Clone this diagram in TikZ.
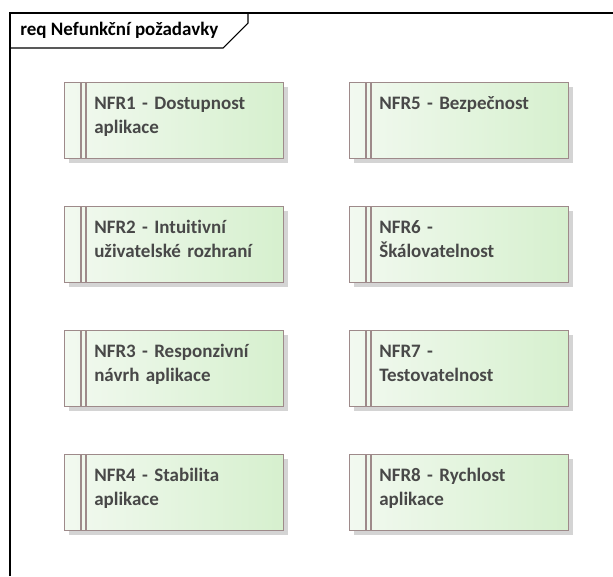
\documentclass[tikz,border=0pt]{standalone}
\usepackage{fontspec}
\setmainfont[Ligatures=NoCommon]{Carlito}
\usetikzlibrary{shadows}
\definecolor{boxedge}{RGB}{158,138,138}
\definecolor{fillL}{RGB}{242,249,240}
\definecolor{fillR}{RGB}{214,240,206}
\definecolor{reqtextcol}{RGB}{72,72,72}
\definecolor{shadowgray}{RGB}{212,212,212}
\begin{document}
\begin{tikzpicture}[x=0.75pt,y=-0.75pt,
  reqbox/.style={draw=boxedge, line width=0.9pt, left color=fillL, right color=fillR,
    minimum width=164.25pt, minimum height=57pt, inner sep=0pt, anchor=north west,
    general shadow={fill=shadowgray, shadow xshift=3pt, shadow yshift=-3pt}},
  stripline/.style={draw=boxedge, line width=0.9pt},
  reqtext/.style={anchor=base west, inner sep=0pt, text width=145pt, align=left,
    text=reqtextcol, font=\fontsize{14.25}{18}\selectfont\bfseries},
  titletext/.style={anchor=base west, inner sep=0pt, text=black,
    font=\fontsize{14.25}{18}\selectfont\bfseries},
  framestroke/.style={draw=black, line width=1.1pt},
  tabstroke/.style={draw=black, line width=0.8pt}]
\useasboundingbox (0,0) rectangle (613,576);
\fill[white] (0,0) rectangle (613,576);

% diagram frame and its name tab
\coordinate (frameBL) at (10,576);
\coordinate (frameTL) at (10,13);
\coordinate (frameTR) at (613,13);
\draw[framestroke] (frameBL) -- (frameTL) -- (frameTR);
\node[titletext] (title) at (20,35) {req Nefunkční požadavky};
\coordinate (tabA) at (10,48);
\coordinate (tabB) at (223,48);
\coordinate (tabC) at (248,23);
\coordinate (tabD) at (248,13);
\draw[tabstroke] (tabA) -- (tabB) -- (tabC) -- (tabD);

% requirement elements
\node[reqbox] (r1) at (64,82)  {};
\node[reqbox] (r2) at (64,206) {};
\node[reqbox] (r3) at (64,330) {};
\node[reqbox] (r4) at (64,454) {};
\node[reqbox] (r5) at (349,82)  {};
\node[reqbox] (r6) at (349,206) {};
\node[reqbox] (r7) at (349,330) {};
\node[reqbox] (r8) at (349,454) {};

% double stripe along the left side of each element
\foreach \r in {r1,r2,r3,r4,r5,r6,r7,r8}{
  \draw[stripline] ([xshift=12.75pt]\r.north west) -- ([xshift=12.75pt]\r.south west);
  \draw[stripline] ([xshift=16.5pt]\r.north west) -- ([xshift=16.5pt]\r.south west);
}

% element names
\node[reqtext] (t1) at ([xshift=22.5pt,yshift=-20.25pt]r1.north west) {NFR1 - Dostupnost\\aplikace};
\node[reqtext] (t2) at ([xshift=22.5pt,yshift=-20.25pt]r2.north west) {NFR2 - Intuitivní\\uživatelské rozhraní};
\node[reqtext] (t3) at ([xshift=22.5pt,yshift=-20.25pt]r3.north west) {NFR3 - Responzivní\\návrh aplikace};
\node[reqtext] (t4) at ([xshift=22.5pt,yshift=-20.25pt]r4.north west) {NFR4 - Stabilita\\aplikace};
\node[reqtext] (t5) at ([xshift=22.5pt,yshift=-20.25pt]r5.north west) {NFR5 - Bezpečnost};
\node[reqtext] (t6) at ([xshift=22.5pt,yshift=-20.25pt]r6.north west) {NFR6 -\\Škálovatelnost};
\node[reqtext] (t7) at ([xshift=22.5pt,yshift=-20.25pt]r7.north west) {NFR7 -\\Testovatelnost};
\node[reqtext] (t8) at ([xshift=22.5pt,yshift=-20.25pt]r8.north west) {NFR8 - Rychlost\\aplikace};
\end{tikzpicture}
\end{document}
